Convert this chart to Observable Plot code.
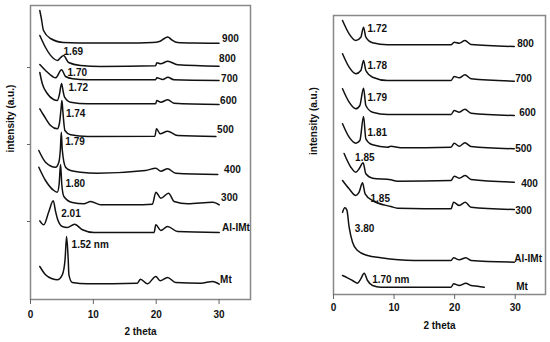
<!DOCTYPE html>
<html>
<head>
<meta charset="utf-8">
<script src="https://cdn.jsdelivr.net/npm/d3@7"></script>
<script src="https://cdn.jsdelivr.net/npm/@observablehq/plot@0.6"></script>
<style>
  html, body { margin: 0; padding: 0; background: #fff; }
  #wrap { position: relative; width: 550px; height: 342px; overflow: hidden; background: #fff; }
  #wrap > svg { position: absolute; top: 0; }
</style>
</head>
<body>
<div id="wrap"></div>
<script>
// ---------- DATA (2θ in degrees, intensity in arbitrary units) ----------
// Left panel
const left900 = [[1.48,289],[1.7,282],[2.07,269],[3.19,261],[5.26,257],[10,256.5],[15,256.5],[19.4,257],[20.5,258],[21.3,261],[21.85,262.5],[22.4,260],[23.4,257],[26,256.5],[30,256.3]];
const left800 = [[1.48,264],[2.39,252],[3.67,241],[4.31,239],[4.8,242],[5.26,244],[6.06,237],[7.97,234],[11.2,233],[19.9,233.7],[20.1,236.7],[20.7,235.7],[21.85,238.3],[23.4,234.7],[30,233.3]];
const left700 = [[1.48,235],[2.39,229],[3.5,223],[3.99,221.7],[4.94,229.7],[5.58,223],[6.7,220.7],[9.09,219.7],[19.9,219.7],[20.1,221.7],[21.05,220],[21.85,222.3],[22.8,219.7],[30,219]];
const left600 = [[1.48,227],[1.87,216],[2.66,206],[3.67,200],[4.26,199],[4.6,205],[4.94,216],[5.2,208],[5.42,202.3],[6.38,197.3],[9.09,195.7],[19.9,195.7],[20.1,199],[20.73,197.3],[21.85,199.7],[22.8,196.3],[30,195]];
const left500 = [[1.48,190.7],[2.12,184],[3.19,174],[4.26,170.7],[4.6,176],[4.85,190],[5.0,199],[5.15,188],[5.47,169],[6.38,164.7],[9.09,163],[19.78,163.3],[20.05,170.7],[20.62,165.7],[21.8,168.3],[23.4,164],[29.5,163]];
const left400 = [[1.32,149],[2.39,137.3],[3.99,132.3],[4.51,137.3],[4.75,150],[4.9,167.3],[5.05,150],[5.58,132.3],[6.38,129],[7.97,127.3],[10.64,126.3],[18.3,129],[19.94,131.3],[20.73,128.3],[21.8,130.7],[23.1,126.3],[29.8,125]];
const left300 = [[1.32,132.3],[2.39,119],[3.72,109],[4.26,107.3],[4.55,115],[4.78,135],[4.98,115],[5.31,103],[6.65,97],[8.5,95.7],[9.57,98],[11.16,94.7],[16.4,94.7],[19.4,95.3],[19.94,107.3],[20.73,101.3],[21.96,106.3],[22.86,98],[25.0,95.7],[29.0,97.3],[30.03,94.7]];
const leftAlIMt = [[1.48,78.7],[2.12,74.7],[2.92,88],[3.62,98.7],[3.99,88],[4.26,81.3],[5.06,73],[5.85,72],[7.02,75.3],[8.25,69.7],[10.1,67],[19.66,67],[19.94,74.7],[20.73,69],[21.8,73],[23.4,68],[30.03,67]];
const leftMt = [[1.48,33],[2.39,24.7],[3.46,20.7],[4.26,19.7],[5.06,24.7],[5.5,40],[5.74,63],[6.0,40],[6.11,24.7],[6.65,17],[9.04,15.7],[17.0,16.3],[17.5,20.3],[18.6,15.7],[19.94,23],[20.62,18.7],[21.8,22],[23.1,17],[27.1,16.3],[29.0,18],[30.03,15.3]];

// Right panel
const right800 = [[1.49,274],[2.58,260.7],[3.69,254],[4.51,257.3],[4.96,267.3],[5.34,257.3],[6.45,251.7],[8.93,249.7],[19.4,249.7],[19.93,252.3],[20.76,251.3],[21.7,254],[22.7,250],[29.85,248]];
const right700 = [[1.49,240.7],[2.58,227.3],[3.69,220.7],[4.51,224],[4.96,234],[5.34,224],[6.45,217.3],[8.93,214],[19.4,214],[19.93,218],[20.76,216.7],[21.7,219.7],[22.7,215.7],[29.85,213.3]];
const right600 = [[1.49,205.7],[2.58,192.3],[3.69,185.7],[4.35,189],[4.96,206.3],[5.34,189],[6.45,182.3],[8.93,180],[19.4,180],[19.93,184],[20.76,182.3],[21.7,185.3],[22.7,181.3],[29.85,179]];
const right500 = [[1.49,170.7],[2.58,157.3],[3.69,151.3],[4.35,154],[4.96,178],[5.34,155.7],[6.45,149.7],[8.93,147.3],[9.47,148.3],[11.1,146.7],[19.4,147.3],[19.93,151.3],[20.76,148.3],[21.7,151.7],[22.7,148],[29.85,145.7]];
const right400 = [[1.75,141],[2.86,127.3],[3.69,122.3],[4.23,125.7],[4.89,131.7],[5.34,120.7],[6.45,116.3],[9.47,114.7],[10.58,113.3],[19.4,114],[19.93,118.3],[20.76,116.3],[21.75,119],[22.7,115],[29.85,112.3]];
const right300 = [[1.49,114],[2.58,105.7],[3.69,99],[4.23,102.3],[4.79,111.7],[5.22,100.7],[6.45,94],[9.47,88],[10.58,86.3],[19.4,85.7],[19.83,92.3],[20.76,89],[21.75,92.3],[22.7,87.3],[29.85,85]];
const rightAlIMt = [[1.49,82.3],[1.87,86.7],[2.2,84.7],[2.58,67.3],[3.14,52.3],[3.97,44],[5.62,39],[7.82,36.7],[13.3,34],[19.4,34],[19.83,36.7],[20.76,34.7],[21.86,36.7],[22.7,34],[29.85,32.3]];
const rightMt = [[1.49,19],[2.31,16.7],[3.14,14],[3.97,11.3],[4.51,15.7],[5.06,21.3],[5.62,14],[6.45,9],[7.82,7.3],[19.4,7.3],[19.83,10.7],[20.76,9],[21.86,11.3],[22.7,9],[23.8,8.3],[24.9,7.3]];

// Labels
const leftNames = ["900","800","700","600","500","400","300","Al-IMt","Mt"];
const leftD = ["", "1.69","1.70","1.72","1.74","1.79","1.80","2.01","1.52 nm"];
const rightNames = ["800","700","600","500","400","300","Al-IMt","Mt"];
const rightD = ["1.72","1.78","1.79","1.81","1.85","1.85","3.80","1.70 nm"];
const xTicks = [0, 10, 20, 30];
const leftYTicks = [78, 155, 232];

// ---------- LAYOUT (label offsets in px) ----------
const leftDOff  = [null,[0,-4],[6,3],[7,4],[4,13],[4,10],[5,19],[8,13],[5,8]];
const leftNOff  = [[3,-4],[0,-7],[2,-2],[1,-4],[-2,-7],[5,-5],[2,-7],[3,-5],[1,-4]];
const rightDOff = [[4,2],[4,5],[4,10],[4,16],[-8,-5],[8,16],[10,21],[8,7]];
const rightNOff = [[2,-3],[0,-2],[4,-3],[0,0],[6,2],[0,1],[-1,-3],[1,0]];

const FONT = "'Liberation Sans', Arial, Helvetica, sans-serif";

function buildRows(names, arrays) {
  const rows = [];
  names.forEach((n, i) => arrays[i].forEach(([t, v]) => rows.push({series: n, t, v})));
  return rows;
}
function peakOf(arr, lo, hi) {
  let best = null;
  for (const p of arr) if (p[0] >= lo && p[0] <= hi && (!best || p[1] > best[1])) best = p;
  return best;
}

function panel({names, arrays, dLabels, dOff, nOff, yMax, margins, peakLo, yTicks}) {
  const rows = buildRows(names, arrays);
  const dMarks = [];
  dLabels.forEach((lab, i) => {
    if (!lab) return;
    const p = peakOf(arrays[i], peakLo, 8);
    dMarks.push(Plot.text([{t: p[0], v: p[1], lab}], {
      x: "t", y: "v", text: "lab", dx: dOff[i][0], dy: dOff[i][1],
      textAnchor: "start", fill: "#111", fontWeight: "bold", fontSize: 10
    }));
  });
  const nMarks = names.map((n, i) => {
    const last = arrays[i][arrays[i].length - 1];
    return Plot.text([{t: 30, v: last[1], lab: n}], {
      x: "t", y: "v", text: "lab", dx: nOff[i][0], dy: nOff[i][1],
      textAnchor: "start", fill: "#111", fontWeight: "bold", fontSize: 10
    });
  });
  return Plot.plot({
    width: 275, height: 342,
    marginLeft: margins[0], marginRight: margins[1], marginTop: margins[2], marginBottom: margins[3],
    style: {fontFamily: FONT, fontSize: "10px", fontWeight: "bold", background: "transparent", overflow: "visible", color: "#111"},
    x: {domain: [0, 35]},
    y: yTicks ? {domain: [0, yMax]} : {domain: [0, yMax], axis: null},
    marks: [
      Plot.line(rows, {x: "t", y: "v", z: "series", stroke: "#111", strokeWidth: 1.5, curve: "monotone-x"}),
      Plot.frame({stroke: "#888", strokeWidth: 1.5}),
      Plot.axisX({ticks: xTicks, tickSize: 5, tickPadding: margins[4], label: null, stroke: "#666", fill: "#111", fontWeight: "bold", fontSize: 10}),
      yTicks ? Plot.axisY({ticks: yTicks, tickSize: 3, tickFormat: () => "", label: null, stroke: "#666"}) : null,
      Plot.text(["2 theta"], {frameAnchor: "bottom", dy: margins[5], fill: "#111", fontWeight: "bold", fontSize: 10}),
      Plot.text(["intensity (a.u.)"], {frameAnchor: "left", dx: -20, rotate: -90, fill: "#111", fontWeight: "bold", fontSize: 10}),
      ...dMarks,
      ...nMarks
    ]
  });
}

const wrap = document.getElementById("wrap");
const leftSvg = panel({
  names: leftNames,
  arrays: [left900, left800, left700, left600, left500, left400, left300, leftAlIMt, leftMt],
  dLabels: leftD, dOff: leftDOff, nOff: leftNOff,
  yMax: 294, margins: [30, 25, 5, 43, 6, 35], peakLo: 3, yTicks: leftYTicks
});
leftSvg.style.left = "0px";
wrap.appendChild(leftSvg);

const rightSvg = panel({
  names: rightNames,
  arrays: [right800, right700, right600, right500, right400, right300, rightAlIMt, rightMt],
  dLabels: rightD, dOff: rightDOff, nOff: rightNOff,
  yMax: 279, margins: [58, 5, 15, 48, 4, 34], peakLo: 1.8, yTicks: null
});
rightSvg.style.left = "275px";
wrap.appendChild(rightSvg);
</script>
</body>
</html>
